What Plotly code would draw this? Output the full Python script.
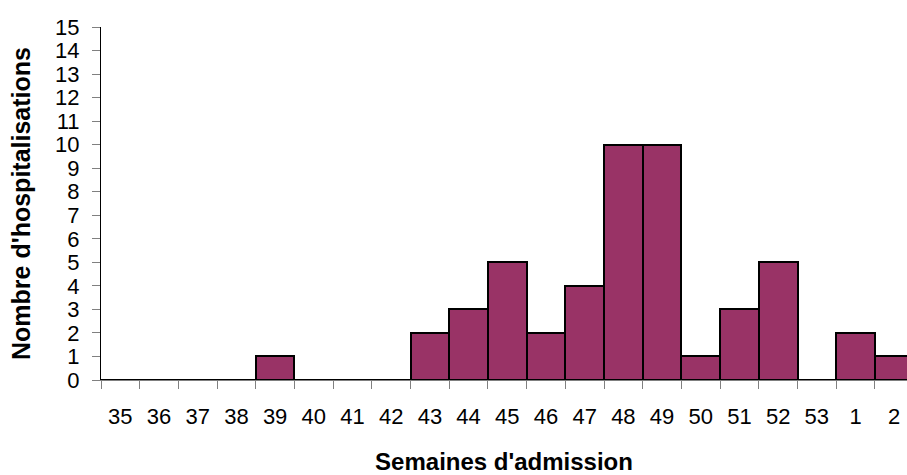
import plotly.graph_objects as go

weeks = ["35", "36", "37", "38", "39", "40", "41", "42", "43", "44", "45",
         "46", "47", "48", "49", "50", "51", "52", "53", "1", "2"]
hospitalisations = [0, 0, 0, 0, 1, 0, 0, 0, 2, 3, 5, 2, 4, 10, 10, 1, 3, 5, 0, 2, 1]
y_ticks = list(range(0, 16))

fig = go.Figure()
fig.add_trace(go.Bar(
    x=weeks,
    y=hospitalisations,
    marker=dict(color="#993366", line=dict(color="black", width=2)),
    width=1.0,
))

font_family = "Liberation Sans, Arial, sans-serif"
fig.update_layout(
    width=907, height=475,
    margin=dict(l=101, r=0, t=27, b=95),
    paper_bgcolor="white", plot_bgcolor="white",
    showlegend=False,
    bargap=0,
    font=dict(family=font_family, color="black"),
    xaxis=dict(
        type="category",
        categoryorder="array", categoryarray=weeks,
        range=[-0.5, 20.33],
        tickson="boundaries",
        ticks="outside", ticklen=8, tickcolor="#808080", tickwidth=1,
        showline=True, linecolor="#808080", linewidth=1,
        showgrid=False, zeroline=False,
        tickfont=dict(size=22, family=font_family, color="black"),
        ticklabelstandoff=17,
        title=dict(text="<b>Semaines d'admission</b>", font=dict(size=24, family=font_family), standoff=27),
    ),
    yaxis=dict(
        range=[0, 15],
        tickmode="array", tickvals=y_ticks, ticktext=[str(v) for v in y_ticks],
        ticks="outside", ticklen=8, tickcolor="#808080", tickwidth=1,
        showline=True, linecolor="black", linewidth=1,
        showgrid=False, zeroline=False,
        tickfont=dict(size=22, family=font_family, color="black"),
        ticklabelstandoff=8,
        title=dict(text="<b>Nombre d'hospitalisations</b>", font=dict(size=25, family=font_family), standoff=17),
    ),
)

fig.write_html(
    "out.html",
    config={"displayModeBar": False},
    post_script="document.body.style.margin='0';document.body.style.overflow='hidden';",
)
